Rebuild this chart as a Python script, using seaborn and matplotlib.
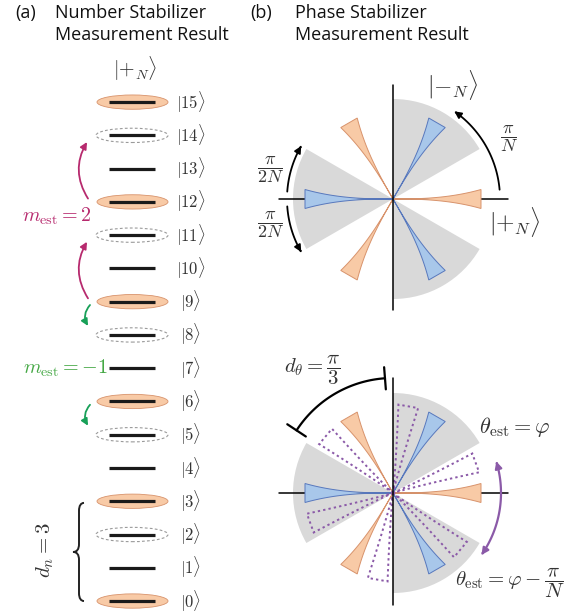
import numpy as np
import matplotlib
matplotlib.use('Agg')
import matplotlib.pyplot as plt
import seaborn as sns
from matplotlib.patches import Ellipse, Wedge, Polygon, FancyArrowPatch, PathPatch
from matplotlib.path import Path

sns.set_theme(style='white')
plt.rcParams['font.family'] = ['Open Sans', 'DejaVu Sans']
plt.rcParams['mathtext.fontset'] = 'cm'

# --- data ---
levels = list(range(16))
level_kind = ['fill', 'none', 'dash', 'fill', 'none', 'dash', 'fill', 'none',
              'dash', 'fill', 'none', 'dash', 'fill', 'none', 'dash', 'fill']
# number-stabilizer jumps: (from level, to level)
jumps_up = [(12, 14), (9, 11)]
jumps_down = [(9, 8), (6, 5)]

sector_angles = [60, 180, 300]
sector_width = 60
blue_angles = [60, 180, 300]
orange_angles = [0, 120, 240]
shifted_angles = [20, 80, 140, 200, 260, 320]

# colours
c_orange, c_orange_edge = '#f8caa6', '#d8936c'
c_blue, c_blue_edge = '#a8c7ea', '#5878bd'
c_grey = '#d9d9d9'
c_magenta = '#b72a6e'
c_green = '#18a058'
c_green_txt = '#45a845'
c_purple = '#8b5aa8'
c_txt = '#333333'

W, H = 575, 614
fig = plt.figure(figsize=(W / 100, H / 100), dpi=100)

# --- titles ---
def px_text(x, y, s, **kw):
    fig.text(x / W, 1 - y / H, s, va='center', fontsize=13, color='#111111', **kw)

px_text(15, 13, '(a)')
px_text(55, 13, 'Number Stabilizer')
px_text(55, 35, 'Measurement Result')
px_text(250, 13, '(b)')
px_text(295, 13, 'Phase Stabilizer')
px_text(295, 35, 'Measurement Result')

# --- (a) number stabilizer ladder ---
axL = fig.add_axes([0, 0, 240 / W, 1])
axL.set_xlim(0, 240)
axL.set_ylim(-0.39, 18.07)
axL.axis('off')

for n, kind in zip(levels, level_kind):
    if kind == 'fill':
        axL.add_patch(Ellipse((132.5, n), 71, 0.43, facecolor=c_orange,
                              edgecolor=c_orange_edge, lw=0.6, zorder=1))
    elif kind == 'dash':
        axL.add_patch(Ellipse((132, n), 72, 0.43, facecolor='none',
                              edgecolor='#9a9a9a', lw=0.8, ls=(0, (2.5, 2)), zorder=1))
axL.hlines(levels, 109, 155, color='#1a1a1a', lw=2.3, zorder=2)
for n in levels:
    axL.text(191, n, rf'$|{n}\rangle$', ha='center', va='center', fontsize=12, color=c_txt)
axL.text(135, 16.0, r'$|{+}_{N}\rangle$', ha='center', va='center', fontsize=14.5, color=c_txt)

for a, b in jumps_up:
    axL.annotate('', xy=(87, b - 0.2), xytext=(88, a + 0.1),
                 arrowprops=dict(arrowstyle='-|>', color=c_magenta, lw=1.3,
                                 mutation_scale=10, shrinkA=0, shrinkB=0,
                                 connectionstyle='arc3,rad=-0.3'))
for a, b in jumps_down:
    axL.annotate('', xy=(88, b + 0.27), xytext=(90, a - 0.1),
                 arrowprops=dict(arrowstyle='-|>', color=c_green, lw=1.3,
                                 mutation_scale=10, shrinkA=0, shrinkB=0,
                                 connectionstyle='arc3,rad=0.35'))
axL.text(92, 11.57, r'$m_{\rm est}=2$', ha='right', va='center', fontsize=14.5, color=c_magenta)
axL.text(108, 7.0, r'$m_{\rm est}=-1$', ha='right', va='center', fontsize=14.5, color=c_green_txt)

# curly brace spanning levels 0..3
top, bot = 2.95, 0.0
mid = (top + bot) / 2
cu = 0.24
verts = [(84, top), (81, top), (79, top - 0.08), (79, top - cu),
         (79, mid + cu),
         (79, mid + 0.08), (77, mid), (73, mid),
         (77, mid), (79, mid - 0.08), (79, mid - cu),
         (79, bot + cu),
         (79, bot + 0.08), (81, bot), (84, bot)]
codes = [Path.MOVETO, Path.CURVE4, Path.CURVE4, Path.CURVE4,
         Path.LINETO,
         Path.CURVE4, Path.CURVE4, Path.CURVE4,
         Path.CURVE4, Path.CURVE4, Path.CURVE4,
         Path.LINETO,
         Path.CURVE4, Path.CURVE4, Path.CURVE4]
axL.add_patch(PathPatch(Path(verts, codes), facecolor='none', edgecolor='#222222', lw=1.4))
axL.text(45, 1.53, r'$d_n=3$', rotation=90, ha='center', va='center', fontsize=15, color=c_txt)


# --- (b) phase stabilizer diagrams ---
def trumpet(angle, R=88, Wd=9.5, p=2.6):
    r = np.linspace(0, R, 50)
    w = Wd * (r / R) ** p
    t = np.radians(angle)
    u = np.array([np.cos(t), np.sin(t)])
    nv = np.array([-np.sin(t), np.cos(t)])
    side1 = r[:, None] * u + w[:, None] * nv
    side2 = r[::-1, None] * u - w[::-1, None] * nv
    return np.vstack([side1, side2])


def arc_arrow(ax, r, a1, a2, style, color, lw=1.3, ms=10):
    t = np.radians(np.linspace(a1, a2, 60))
    pts = np.column_stack([r * np.cos(t), r * np.sin(t)])
    ax.add_patch(FancyArrowPatch(path=Path(pts), arrowstyle=style, color=color,
                                 lw=lw, mutation_scale=ms, clip_on=False, zorder=6))


def phase_axes(cy, vtop, vbot):
    ax = fig.add_axes([263 / W, (H - (cy + 130)) / H, 260 / W, 260 / H])
    ax.set_xlim(-130, 130)
    ax.set_ylim(-130, 130)
    ax.set_aspect('equal')
    ax.axis('off')
    for a in sector_angles:
        ax.add_patch(Wedge((0, 0), 100, a - sector_width / 2, a + sector_width / 2,
                           facecolor=c_grey, edgecolor='none', zorder=1))
    ax.plot([-114, 115], [0, 0], color='black', lw=1.1, zorder=2)
    for a in orange_angles:
        ax.add_patch(Polygon(trumpet(a), closed=True, facecolor=c_orange,
                             edgecolor=c_orange_edge, lw=0.7, zorder=3))
    for a in blue_angles:
        ax.add_patch(Polygon(trumpet(a), closed=True, facecolor=c_blue,
                             edgecolor=c_blue_edge, lw=0.7, zorder=3))
    ax.plot([0, 0], [vbot, vtop], color='black', lw=1.1, zorder=5)
    return ax


axT = phase_axes(199, 114, -111)
arc_arrow(axT, 107, 5, 55, '-|>', 'black')
arc_arrow(axT, 106, 176, 150, '-|>', 'black')
arc_arrow(axT, 106, 184, 210, '-|>', 'black')
axT.text(60, 114, r'$|{-}_{N}\rangle$', ha='center', va='center', fontsize=17, color=c_txt)
axT.text(122, -23, r'$|{+}_{N}\rangle$', ha='center', va='center', fontsize=17, color=c_txt)
axT.text(116, 60, r'$\dfrac{\pi}{N}$', ha='center', va='center', fontsize=13, color=c_txt)
axT.text(-123, 29, r'$\dfrac{\pi}{2N}$', ha='center', va='center', fontsize=13, color=c_txt)
axT.text(-123, -26, r'$\dfrac{\pi}{2N}$', ha='center', va='center', fontsize=13, color=c_txt)

axB = phase_axes(493, 115, -112)
for a in shifted_angles:
    axB.add_patch(Polygon(trumpet(a, R=88, Wd=10, p=1.2), closed=True, facecolor='none',
                          edgecolor=c_purple, lw=1.4, ls=(0, (1.2, 1.6)), zorder=4))
arc_arrow(axB, 108, 17, -35, '<|-|>', c_purple, lw=1.6)
arc_arrow(axB, 115, 94, 147, '|-|', 'black', lw=1.6, ms=8)
axB.text(-81, 123, r'$d_\theta=\dfrac{\pi}{3}$', ha='center', va='center', fontsize=15, color=c_txt)
axB.text(122, 66, r'$\theta_{\rm est}=\varphi$', ha='center', va='center', fontsize=16, color=c_txt)
axB.text(117, -90, r'$\theta_{\rm est}=\varphi-\dfrac{\pi}{N}$', ha='center', va='center',
         fontsize=15, color=c_txt)

fig.savefig('out.png', dpi=100)
